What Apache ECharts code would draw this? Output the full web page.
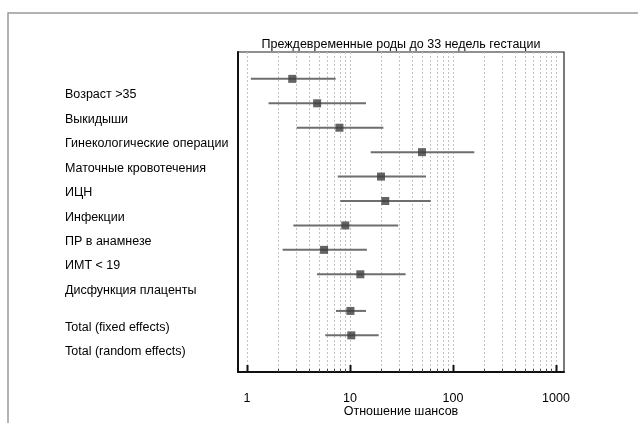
<!DOCTYPE html>
<html>
<head>
<meta charset="utf-8">
<script src="https://cdn.jsdelivr.net/npm/echarts@6/dist/echarts.min.js"></script>
<style>
html,body{margin:0;padding:0;background:#fff;}
#c{width:638px;height:423px;}
</style>
</head>
<body>
<div id="c"></div>
<script>
const TITLE = 'Преждевременные роды до 33 недель гестации';
const X_NAME = 'Отношение шансов';
const CATEGORIES = ['Возраст >35', 'Выкидыши', 'Гинекологические операции', 'Маточные кровотечения', 'ИЦН', 'Инфекции', 'ПР в анамнезе', 'ИМТ < 19', 'Дисфункция плаценты', 'Total (fixed effects)', 'Total (random effects)'];
const ROW_POS = [0, 1, 2, 3, 4, 5, 6, 7, 8, 9.5, 10.5];
const OR_EST = [2.75, 4.8, 7.9, 50, 20, 22, 9.0, 5.6, 12.6, 10.1, 10.3];
const CI_LOW = [1.09, 1.62, 3.04, 15.9, 7.6, 8.05, 2.82, 2.22, 4.78, 7.31, 5.75];
const CI_HIGH = [7.26, 14.3, 21.1, 161, 54.7, 60.7, 29.4, 14.6, 34.7, 14.3, 19.0];
const X_MAJOR_TICKS = [1, 10, 100, 1000];
const X_GRID_VALUES = [1, 2, 3, 4, 5, 6, 7, 8, 9, 10, 20, 30, 40, 50, 60, 70, 80, 90, 100, 200, 300, 400, 500, 600, 700, 800, 900, 1000];

const FONT = 'Liberation Sans, Arial, sans-serif';
const FS = 12.5;
const LABEL_SHIFT = 0.66;

const chart = echarts.init(document.getElementById('c'), null, {renderer: 'canvas'});

const option = {
  animation: false,
  backgroundColor: '#fff',
  textStyle: {fontFamily: FONT},
  graphic: [{
    type: 'rect', silent: true, z: -10,
    shape: {x: 8, y: 13, width: 1000, height: 1000},
    style: {fill: 'none', stroke: '#9a9a9a', lineWidth: 1.5}
  }],
  title: {
    text: TITLE, left: 396, top: 33, textAlign: 'center',
    textStyle: {fontSize: FS, fontWeight: 'normal', color: '#000', fontFamily: FONT}
  },
  grid: {left: 238, top: 52, right: 74, bottom: 51, show: true, borderColor: '#222', borderWidth: 1.2,
    containLabel: false, outerBoundsMode: 'none'},
  xAxis: {
    type: 'log', logBase: 10, min: 0.818, max: 1196,
    name: X_NAME, nameLocation: 'middle', nameGap: 33, nameMoveOverlap: false,
    nameTextStyle: {fontSize: FS, color: '#000', fontFamily: FONT},
    axisLine: {show: true, onZero: false, lineStyle: {color: '#111', width: 2}},
    axisTick: {show: false},
    splitLine: {show: false},
    axisLabel: {
      margin: 20, fontSize: FS, color: '#000', fontFamily: FONT,
      formatter: function (v) {
        for (const t of X_MAJOR_TICKS) { if (Math.abs(v - t) / t < 1e-6) return String(t); }
        return '';
      }
    }
  },
  yAxis: {
    type: 'value', inverse: true, min: -1.1, max: 12, interval: 0.02,
    axisLine: {show: true, onZero: false, lineStyle: {color: '#111', width: 2}},
    axisTick: {show: false},
    splitLine: {show: false},
    axisLabel: {
      align: 'left', margin: 173, fontSize: FS, color: '#000', fontFamily: FONT,
      formatter: function (v) {
        for (let i = 0; i < ROW_POS.length; i++) {
          if (Math.abs(v - (ROW_POS[i] + LABEL_SHIFT)) < 0.009) return CATEGORIES[i];
        }
        return '';
      }
    }
  },
  series: [
    {
      type: 'custom', silent: true, z: 1,
      data: X_GRID_VALUES.map(v => [v, 0]),
      encode: {x: 0, y: 1},
      renderItem: function (params, api) {
        const v = api.value(0);
        const x = Math.round(api.coord([v, 0])[0]) + 0.5;
        const r = params.coordSys;
        const major = X_MAJOR_TICKS.indexOf(v) >= 0;
        const children = [{
          type: 'line',
          shape: {x1: x, y1: r.y, x2: x, y2: r.y + r.height},
          style: {stroke: '#c2c2c2', lineWidth: 1, lineDash: [2, 2]}
        }];
        if (major) {
          children.push({type: 'line', shape: {x1: x, y1: r.y + r.height, x2: x, y2: r.y + r.height - 7},
            style: {stroke: '#111', lineWidth: 2}});
        } else {
          children.push({type: 'line', shape: {x1: x, y1: r.y + r.height, x2: x, y2: r.y + r.height - 3},
            style: {stroke: '#444', lineWidth: 1}});
        }
        return {type: 'group', children: children};
      }
    },
    {
      type: 'custom', silent: true, z: 3,
      data: ROW_POS.map((p, i) => [CI_LOW[i], CI_HIGH[i], p]),
      encode: {x: [0, 1], y: 2},
      renderItem: function (params, api) {
        const a = api.coord([api.value(0), api.value(2)]);
        const b = api.coord([api.value(1), api.value(2)]);
        return {type: 'line', shape: {x1: a[0], y1: a[1], x2: b[0], y2: b[1]},
          style: {stroke: '#6e6e6e', lineWidth: 2}};
      }
    },
    {
      type: 'scatter', silent: true, z: 4,
      symbol: 'rect', symbolSize: 8,
      itemStyle: {color: '#3d3d3d'},
      data: ROW_POS.map((p, i) => [OR_EST[i], p])
    }
  ]
};
chart.setOption(option);
</script>
</body>
</html>
